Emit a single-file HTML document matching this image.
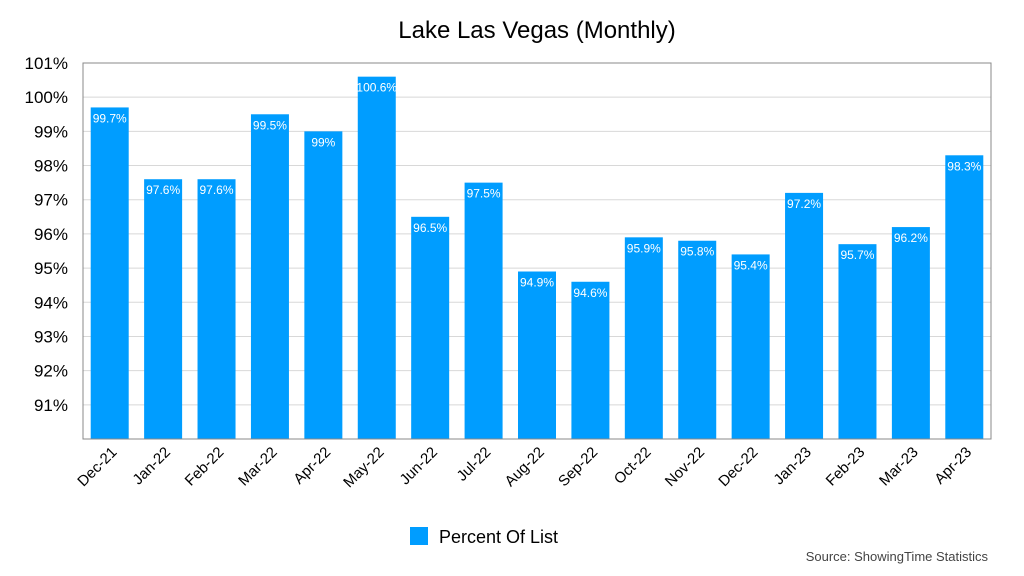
<!DOCTYPE html>
<html><head><meta charset="utf-8"><style>
html,body{margin:0;padding:0;background:#fff;}
svg{display:block;font-family:"Liberation Sans",Arial,sans-serif;}
</style></head><body>
<svg id="chart" width="1024" height="576">
<text x="537" y="38" text-anchor="middle" font-size="24" fill="#000">Lake Las Vegas (Monthly)</text>
<g id="grid"></g><g id="bars"></g><g id="xlabels"></g>
<rect x="83" y="63" width="908" height="376" fill="none" stroke="#888" stroke-width="1"/>
<rect x="410" y="527" width="18" height="18" fill="#009dff"/>
<text x="439" y="543" font-size="18" fill="#000">Percent Of List</text>
<text x="988" y="561" text-anchor="end" font-size="13" fill="#444">Source: ShowingTime Statistics</text>
</svg>
<script>
const categories=["Dec-21","Jan-22","Feb-22","Mar-22","Apr-22","May-22","Jun-22","Jul-22","Aug-22","Sep-22","Oct-22","Nov-22","Dec-22","Jan-23","Feb-23","Mar-23","Apr-23"];
const values=[99.7,97.6,97.6,99.5,99,100.6,96.5,97.5,94.9,94.6,95.9,95.8,95.4,97.2,95.7,96.2,98.3];
const valueLabels=["99.7%","97.6%","97.6%","99.5%","99%","100.6%","96.5%","97.5%","94.9%","94.6%","95.9%","95.8%","95.4%","97.2%","95.7%","96.2%","98.3%"];
const yTicks=[91,92,93,94,95,96,97,98,99,100,101];
const NS="http://www.w3.org/2000/svg";
const L=83,R=991,T=63,B=439,yMin=90,yMax=101;
const y=v=>B-(v-yMin)/(yMax-yMin)*(B-T);
const slot=(R-L)/categories.length;
const x=i=>L+slot*i;
function mk(t,a,p){const e=document.createElementNS(NS,t);for(const k in a)e.setAttribute(k,a[k]);p.appendChild(e);return e;}
const g=document.getElementById('grid');
yTicks.forEach(t=>{
  const l=mk('line',{x1:L,x2:R,y1:y(t),y2:y(t),stroke:'#d8d8d8'},g);
  
  
  const tx=mk('text',{x:68,y:y(t)+6,'text-anchor':'end','font-size':17,fill:'#000'},g);
  tx.textContent=t+'%';
  
  
});
const bg=document.getElementById('bars'),xg=document.getElementById('xlabels');
const bw=38;
categories.forEach((c,i)=>{
  const cx=x(i)+slot/2;
  const r=mk('rect',{x:cx-bw/2,y:y(values[i]),width:bw,height:B-y(values[i]),fill:'#009dff'},bg);
  
  
  const vt=mk('text',{x:cx,y:y(values[i])+15,'text-anchor':'middle','font-size':12,fill:'#fff'},bg);
  vt.textContent=valueLabels[i];
  
  
  const lt=mk('text',{x:cx+8,y:B+14,'text-anchor':'end','font-size':15,fill:'#000',transform:`rotate(-45 ${cx+8} ${B+14})`},xg);
  lt.textContent=c;
  
  
});
</script>
</body></html>
